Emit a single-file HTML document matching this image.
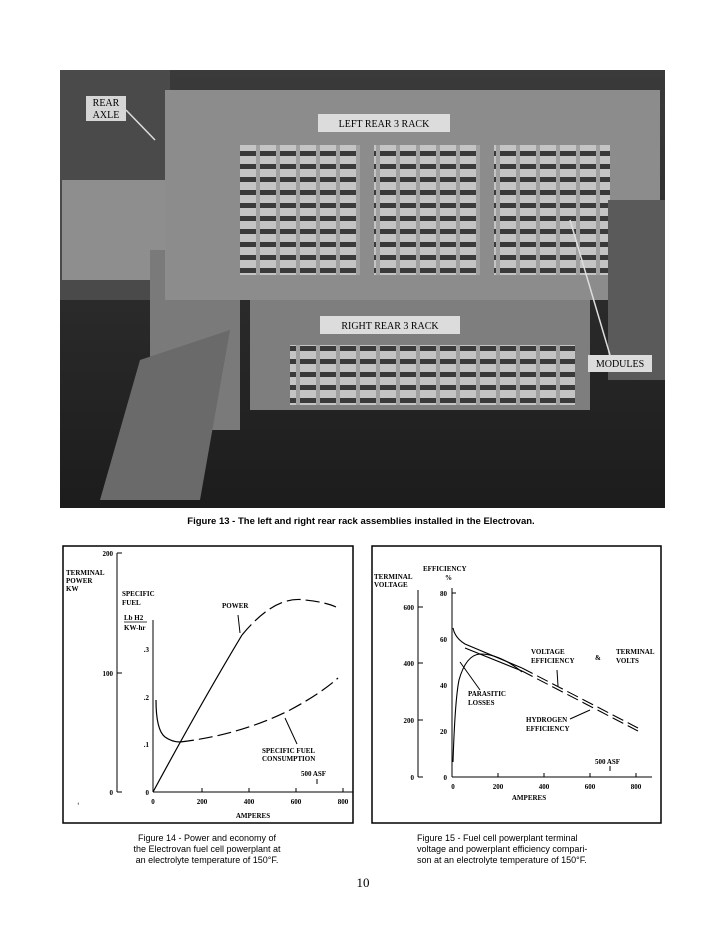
<!DOCTYPE html>
<html><head><meta charset="utf-8"><style>
body{margin:0;background:#fff;}
svg{display:block}
text{font-family:"Liberation Serif",serif;}
text.s{font-family:"Liberation Sans",sans-serif;}
</style></head><body>
<svg width="726" height="942" viewBox="0 0 726 942" xmlns="http://www.w3.org/2000/svg">
<rect width="726" height="942" fill="#fff"/>
<defs>
<linearGradient id="bg" x1="0" y1="0" x2="0" y2="1"><stop offset="0" stop-color="#3a3a3a"/><stop offset="1" stop-color="#1c1c1c"/></linearGradient>
<pattern id="slat" width="20" height="13" patternUnits="userSpaceOnUse"><rect width="20" height="13" fill="#3a3a3a"/><rect y="0" width="20" height="8" fill="#c4c4c4"/><rect x="16" width="4" height="13" fill="#a0a0a0"/></pattern>
</defs>
<!-- photo -->
<rect x="60" y="70" width="605" height="438" fill="url(#bg)"/>
<rect x="60" y="70" width="110" height="230" fill="#4a4a4a"/>
<rect x="62" y="180" width="130" height="100" fill="#8e8e8e"/>
<rect x="150" y="250" width="90" height="180" fill="#7a7a7a"/>
<polygon points="100,500 140,360 230,330 200,500" fill="#6a6a6a"/>
<rect x="165" y="90" width="495" height="210" fill="#8c8c8c"/>
<rect x="240" y="145" width="370" height="130" fill="url(#slat)"/>
<rect x="360" y="145" width="14" height="130" fill="#8c8c8c"/>
<rect x="480" y="145" width="14" height="130" fill="#8c8c8c"/>
<rect x="250" y="300" width="340" height="110" fill="#7e7e7e"/>
<rect x="290" y="345" width="285" height="60" fill="url(#slat)"/>
<rect x="608" y="200" width="57" height="180" fill="#5a5a5a"/>
<rect x="86" y="96" width="40" height="25" fill="#d6d6d6"/>
<text x="106" y="106" font-size="10" text-anchor="middle">REAR</text>
<text x="106" y="118" font-size="10" text-anchor="middle">AXLE</text>
<rect x="318" y="114" width="132" height="18" fill="#dcdcdc"/>
<text x="384" y="127" font-size="10" text-anchor="middle">LEFT REAR 3 RACK</text>
<rect x="320" y="316" width="140" height="18" fill="#dcdcdc"/>
<text x="390" y="329" font-size="10" text-anchor="middle">RIGHT REAR 3 RACK</text>
<rect x="588" y="355" width="64" height="17" fill="#dcdcdc"/>
<text x="620" y="367" font-size="10" text-anchor="middle">MODULES</text>
<line x1="570" y1="220" x2="610" y2="355" stroke="#ddd" stroke-width="1.5"/>
<line x1="126" y1="110" x2="155" y2="140" stroke="#ddd" stroke-width="1.5"/>
<text class="s" x="361" y="524" font-size="9.5" font-weight="bold" text-anchor="middle">Figure 13 - The left and right rear rack assemblies installed in the Electrovan.</text>

<!-- chart 1 -->
<rect x="63" y="546" width="290" height="277" fill="none" stroke="#000" stroke-width="1.5"/>
<g font-size="7" font-weight="bold">
<line x1="117" y1="553" x2="117" y2="792" stroke="#000"/>
<line x1="117" y1="553" x2="122" y2="553" stroke="#000"/><line x1="117" y1="673" x2="122" y2="673" stroke="#000"/><line x1="117" y1="792" x2="122" y2="792" stroke="#000"/>
<text x="113" y="556" text-anchor="end">200</text><text x="113" y="676" text-anchor="end">100</text><text x="113" y="795" text-anchor="end">0</text>
<text x="66" y="575">TERMINAL</text><text x="66" y="583">POWER</text><text x="66" y="591">KW</text>
<text x="122" y="596">SPECIFIC</text><text x="122" y="605">FUEL</text>
<text x="124" y="620">Lb H2</text><line x1="124" y1="622" x2="147" y2="622" stroke="#000" stroke-width="0.7"/><text x="124" y="630">KW-hr</text>
<line x1="153" y1="620" x2="153" y2="792" stroke="#000"/>
<line x1="153" y1="792" x2="353" y2="792" stroke="#000"/>
<text x="149" y="652" text-anchor="end">.3</text><text x="149" y="700" text-anchor="end">.2</text><text x="149" y="747" text-anchor="end">.1</text><text x="149" y="795" text-anchor="end">0</text>
<g stroke="#000"><line x1="202" y1="788" x2="202" y2="792"/><line x1="249" y1="788" x2="249" y2="792"/><line x1="296" y1="788" x2="296" y2="792"/><line x1="343" y1="788" x2="343" y2="792"/><line x1="317" y1="779" x2="317" y2="784"/></g>
<text x="153" y="804" text-anchor="middle">0</text><text x="202" y="804" text-anchor="middle">200</text><text x="249" y="804" text-anchor="middle">400</text><text x="296" y="804" text-anchor="middle">600</text><text x="343" y="804" text-anchor="middle">800</text>
<text x="301" y="776">500 ASF</text>
<text x="253" y="818" text-anchor="middle">AMPERES</text>
<text x="222" y="608">POWER</text>
<text x="262" y="753">SPECIFIC FUEL</text><text x="262" y="761">CONSUMPTION</text>
</g>
<path d="M153,792 Q200,705 242,635" fill="none" stroke="#000" stroke-width="1.2"/>
<path d="M242,635 Q275,595 305,600 Q325,602 336,607" fill="none" stroke="#000" stroke-width="1.2" stroke-dasharray="14,5"/>
<path d="M156,700 Q156,730 165,737 Q172,742 180,742" fill="none" stroke="#000" stroke-width="1.2"/>
<path d="M180,742 Q240,735 290,710 Q320,694 338,678" fill="none" stroke="#000" stroke-width="1.2" stroke-dasharray="14,5"/>
<line x1="238" y1="615" x2="240" y2="633" stroke="#000"/>
<line x1="297" y1="744" x2="285" y2="718" stroke="#000"/>
<text x="77" y="808" font-size="8">‘</text>
<text class="s" x="207" y="841" font-size="9" text-anchor="middle">Figure 14 - Power and economy of</text>
<text class="s" x="207" y="852" font-size="9" text-anchor="middle">the Electrovan fuel cell powerplant at</text>
<text class="s" x="207" y="863" font-size="9" text-anchor="middle">an electrolyte temperature of 150°F.</text>

<!-- chart 2 -->
<rect x="372" y="546" width="289" height="277" fill="none" stroke="#000" stroke-width="1.5"/>
<g font-size="7" font-weight="bold">
<text x="374" y="579">TERMINAL</text><text x="374" y="587">VOLTAGE</text>
<text x="423" y="571">EFFICIENCY</text><text x="445" y="580">%</text>
<line x1="418" y1="590" x2="418" y2="777" stroke="#000"/>
<g stroke="#000"><line x1="418" y1="607" x2="423" y2="607"/><line x1="418" y1="663" x2="423" y2="663"/><line x1="418" y1="720" x2="423" y2="720"/><line x1="418" y1="777" x2="423" y2="777"/></g>
<text x="414" y="610" text-anchor="end">600</text><text x="414" y="666" text-anchor="end">400</text><text x="414" y="723" text-anchor="end">200</text><text x="414" y="780" text-anchor="end">0</text>
<line x1="452" y1="588" x2="452" y2="777" stroke="#000"/>
<line x1="452" y1="777" x2="652" y2="777" stroke="#000"/>
<g stroke="#000"><line x1="452" y1="593" x2="456" y2="593"/><line x1="498" y1="773" x2="498" y2="777"/><line x1="544" y1="773" x2="544" y2="777"/><line x1="590" y1="773" x2="590" y2="777"/><line x1="636" y1="773" x2="636" y2="777"/><line x1="610" y1="766" x2="610" y2="771"/></g>
<text x="447" y="596" text-anchor="end">80</text><text x="447" y="642" text-anchor="end">60</text><text x="447" y="688" text-anchor="end">40</text><text x="447" y="734" text-anchor="end">20</text><text x="447" y="780" text-anchor="end">0</text>
<text x="453" y="789" text-anchor="middle">0</text><text x="498" y="789" text-anchor="middle">200</text><text x="544" y="789" text-anchor="middle">400</text><text x="590" y="789" text-anchor="middle">600</text><text x="636" y="789" text-anchor="middle">800</text>
<text x="595" y="764">500 ASF</text>
<text x="529" y="800" text-anchor="middle">AMPERES</text>
<text x="531" y="654">VOLTAGE</text><text x="531" y="663">EFFICIENCY</text>
<text x="595" y="660">&amp;</text>
<text x="616" y="654">TERMINAL</text><text x="616" y="663">VOLTS</text>
<text x="468" y="696">PARASITIC</text><text x="468" y="705">LOSSES</text>
<text x="526" y="722">HYDROGEN</text><text x="526" y="731">EFFICIENCY</text>
</g>
<path d="M453,628 Q455,638 465,644 L522,668" fill="none" stroke="#000" stroke-width="1.1"/>
<path d="M522,668 L638,728" fill="none" stroke="#000" stroke-width="1.1" stroke-dasharray="12,5"/>
<path d="M465,648 L522,671" fill="none" stroke="#000" stroke-width="1.1"/>
<path d="M522,671 L638,731" fill="none" stroke="#000" stroke-width="1.1" stroke-dasharray="12,5"/>
<path d="M453,762 Q455,700 459,680 Q466,655 480,654 Q500,654 522,672" fill="none" stroke="#000" stroke-width="1.1"/>
<line x1="480" y1="690" x2="460" y2="662" stroke="#000"/>
<line x1="557" y1="670" x2="558" y2="686" stroke="#000"/>
<line x1="570" y1="719" x2="590" y2="710" stroke="#000"/>
<text class="s" x="417" y="841" font-size="9">Figure 15 - Fuel cell powerplant terminal</text>
<text class="s" x="417" y="852" font-size="9">voltage and powerplant efficiency compari-</text>
<text class="s" x="417" y="863" font-size="9">son at an electrolyte temperature of 150°F.</text>
<text x="363" y="887" font-size="13" text-anchor="middle">10</text>
</svg>
</body></html>
